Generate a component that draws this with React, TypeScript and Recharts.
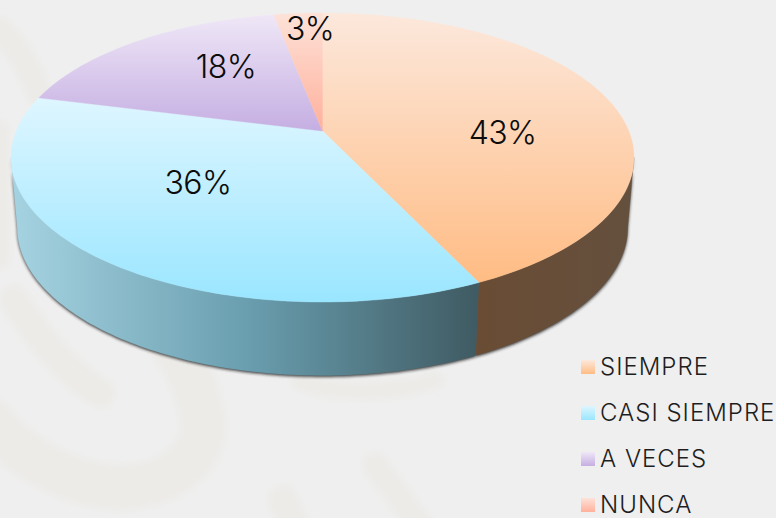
import React from "react";
import { PieChart, Pie, Cell, Legend } from "recharts";

const categories = ["SIEMPRE", "CASI SIEMPRE", "A VECES", "NUNCA"];
const percents = [43, 36, 18, 3];
const tableData = categories.map((name, i) => ({ name, value: percents[i] }));

const topStops = [
  ["#fce8dc", "#ffbc84"],
  ["#def6ff", "#9ae6ff"],
  ["#efe7f7", "#c5aee2"],
  ["#fde2d8", "#ffb09c"],
];
const wallStops: string[][] = [
  ["#6a4c34", "#674e39", "#64503e"],
  ["#a6d3e1", "#6a9fb0", "#3f5a62"],
  ["#999", "#999", "#999"],
  ["#999", "#999", "#999"],
];
// label centre as a share of the ellipse radii, measured from the ellipse centre
const labelShiftX = [0.578, -0.4, -0.31, -0.04];
const labelShiftY = [-0.176, 0.17, -0.633, -0.896];

const W = 776;
const H = 518;
const CX = 322.5;
const CY = 157.5;
const R = 311.5;
const RY = 0.4639;
const TILT = 0.183; // perspective shift of the apex
const BASE_DY = 70;
const BASE_RX = 0.98;
const BASE_RY = 1.024;
const FONT = "Inter, 'Open Sans', sans-serif";

const unit = (theta: number) => {
  const a = (theta * Math.PI) / 180;
  const x = Math.sin(a);
  const y = Math.cos(a);
  const d = 1 + TILT * y;
  return { x: (x * Math.sqrt(1 - TILT * TILT)) / d, y: (y + TILT) / d };
};

const angles = (from: number, to: number) => {
  const out: number[] = [];
  for (let t = from; t < to; t += 1) out.push(t);
  out.push(to);
  return out;
};

const TopShape = (p: any) => {
  const { cx, cy, outerRadius: r, startAngle, endAngle, fill } = p;
  const a = 90 - startAngle;
  const b = 90 - endAngle;
  const ry = r * RY;
  const pts = angles(a, b).map((t) => {
    const u = unit(t);
    return `${cx + r * u.x},${cy - ry * u.y}`;
  });
  const apex = `${cx},${cy - ry * TILT}`;
  return <path d={`M${apex}L${pts.join("L")}Z`} fill={fill} stroke={fill} strokeWidth={0.4} />;
};

const wallPath = (p: any) => {
  const { cx, cy, outerRadius: r, startAngle, endAngle } = p;
  const limit = (Math.acos(-TILT) * 180) / Math.PI;
  const a = Math.max(90 - startAngle, limit);
  const b = Math.min(90 - endAngle, 360 - limit);
  if (b <= a) return null;
  const ry = r * RY;
  const list = angles(a, b);
  const top = list.map((t) => {
    const u = unit(t);
    return `${cx + r * u.x},${cy - ry * u.y}`;
  });
  const bottom = list
    .slice()
    .reverse()
    .map((t) => {
      const u = unit(t);
      return `${cx + r * BASE_RX * u.x},${cy + BASE_DY - ry * BASE_RY * u.y}`;
    });
  return `M${top.join("L")}L${bottom.join("L")}Z`;
};

const WallShape = (p: any) => {
  const d = wallPath(p);
  return d ? <path d={d} fill={p.fill} stroke={p.fill} strokeWidth={0.3} /> : <g />;
};

const ShadowShape = (p: any) => {
  const d = wallPath(p);
  return d ? (
    <path d={d} fill="#1e1e1e" fillOpacity={0.85} filter="url(#wallShadow)" transform="translate(0,1.5)" />
  ) : (
    <g />
  );
};

const PercentLabel = (p: any) => {
  const { cx, cy, outerRadius: r, index, value } = p;
  return (
    <text
      x={cx + r * labelShiftX[index]}
      y={cy + r * RY * labelShiftY[index]}
      textAnchor="middle"
      dominantBaseline="central"
      fontFamily={FONT}
      fontSize={32}
      fontWeight={300}
      letterSpacing={-0.6}
      fill="#0c0c0c"
    >
      {`${value}%`}
    </text>
  );
};

const LegendBox = (p: any) => {
  const seen = new Set<string>();
  const items = (p.payload || []).filter((it: any) => {
    if (seen.has(it.value)) return false;
    seen.add(it.value);
    return true;
  });
  return (
    <div style={{ fontFamily: FONT, fontSize: 24, fontWeight: 300, letterSpacing: 1, lineHeight: 1, color: "#1e1e1e" }}>
      {items.map((item: any, i: number) => (
        <div key={item.value} style={{ display: "flex", alignItems: "center", height: 46, whiteSpace: "nowrap" }}>
          <svg width={14} height={14} style={{ marginRight: 5, flex: "none" }}>
            <rect width={14} height={14} fill={`url(#top${i})`} />
          </svg>
          <span>{item.value}</span>
        </div>
      ))}
    </div>
  );
};

const Watermark = () => (
  <svg width={W} height={H} style={{ position: "absolute", left: 0, top: 0 }}>
    <defs>
      <filter id="soft">
        <feGaussianBlur stdDeviation={3} />
      </filter>
    </defs>
    <rect width={W} height={H} fill="#efefef" />
    <g fill="none" stroke="#ecebe8" strokeLinecap="round" filter="url(#soft)">
      <path d="M14 300 C40 340 70 375 100 393" strokeWidth={30} />
      <path d="M-10 420 C30 470 90 490 130 487 C180 482 205 450 203 425 C200 395 190 370 170 340" strokeWidth={46} />
      <path d="M300 382 C340 396 400 392 435 380" strokeWidth={18} />
      <path d="M283 500 L296 530" strokeWidth={30} />
      <path d="M375 465 L420 525" strokeWidth={26} />
      <path d="M0 30 C20 50 30 70 40 95" strokeWidth={26} />
      <path d="M0 130 L0 260" strokeWidth={20} />
    </g>
  </svg>
);

export default function App() {
  return (
    <div style={{ position: "fixed", left: 0, top: 0, width: W, height: H, overflow: "hidden" }}>
      <Watermark />
      <div style={{ position: "absolute", left: 0, top: 0 }}>
        <PieChart width={W} height={H} margin={{ top: 0, right: 0, bottom: 0, left: 0 }}>
          <defs>
            <filter id="wallShadow" x="-5%" y="-10%" width="110%" height="125%">
              <feGaussianBlur stdDeviation={1.8} />
            </filter>
            {topStops.map((s, i) => (
              <linearGradient key={i} id={`top${i}`} x1="0" y1="0" x2="0" y2="1">
                <stop offset="0" stopColor={s[0]} />
                <stop offset="1" stopColor={s[1]} />
              </linearGradient>
            ))}
            {wallStops.map((s, i) => (
              <linearGradient key={i} id={`wall${i}`} x1="0" y1="0" x2="1" y2="0">
                <stop offset="0" stopColor={s[0]} />
                <stop offset="0.5" stopColor={s[1]} />
                <stop offset="1" stopColor={s[2]} />
              </linearGradient>
            ))}
          </defs>
          <Pie
            data={tableData}
            dataKey="value"
            nameKey="name"
            cx={CX}
            cy={CY}
            outerRadius={R}
            startAngle={90}
            endAngle={-270}
            legendType="none"
            stroke="none"
            isAnimationActive={false}
            shape={ShadowShape}
          />
          <Pie
            data={tableData}
            dataKey="value"
            nameKey="name"
            cx={CX}
            cy={CY}
            outerRadius={R}
            startAngle={90}
            endAngle={-270}
            legendType="none"
            stroke="none"
            isAnimationActive={false}
            shape={WallShape}
          >
            {categories.map((c, i) => (
              <Cell key={c} fill={`url(#wall${i})`} />
            ))}
          </Pie>
          <Pie
            data={tableData}
            dataKey="value"
            nameKey="name"
            cx={CX}
            cy={CY}
            outerRadius={R}
            startAngle={90}
            endAngle={-270}
            stroke="none"
            isAnimationActive={false}
            shape={TopShape}
            label={PercentLabel}
            labelLine={false}
          >
            {categories.map((c, i) => (
              <Cell key={c} fill={`url(#top${i})`} />
            ))}
          </Pie>
          <Legend
            content={LegendBox}
            itemSorter={null}
            wrapperStyle={{ position: "absolute", left: 581, top: 344, width: 195, bottom: "auto", right: "auto" }}
          />
        </PieChart>
      </div>
    </div>
  );
}
